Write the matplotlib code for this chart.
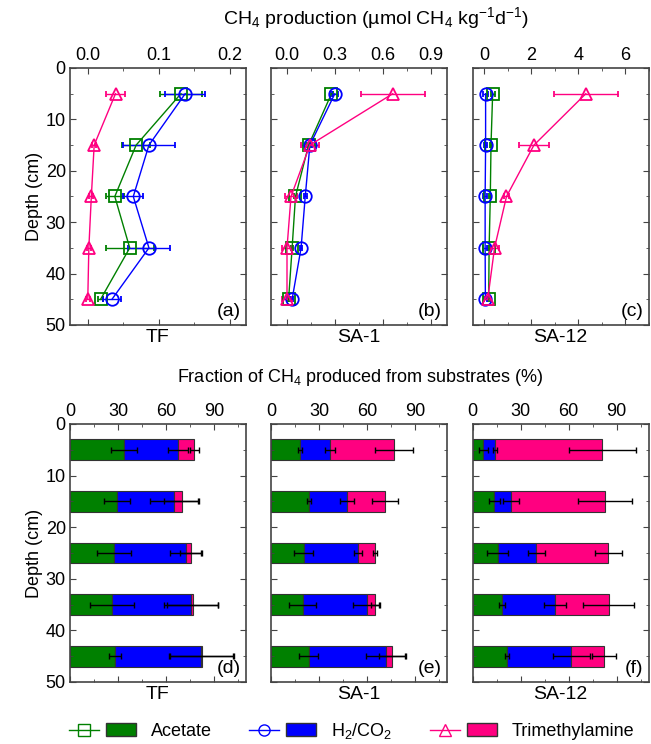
import numpy as np
import matplotlib
matplotlib.use('Agg')
import matplotlib.pyplot as plt
from matplotlib.lines import Line2D
from matplotlib.patches import Patch
from matplotlib.legend_handler import HandlerTuple
from matplotlib.ticker import MultipleLocator, FuncFormatter

plt.rcParams['font.family'] = ['Liberation Sans', 'DejaVu Sans']
plt.rcParams['mathtext.fontset'] = 'custom'
plt.rcParams['mathtext.rm'] = 'Liberation Sans'
plt.rcParams['mathtext.it'] = 'Liberation Sans:italic'

depth = [5, 15, 25, 35, 45]
sites = ['TF', 'SA-1', 'SA-12']

# CH4 production rates (umol CH4 kg-1 d-1)
ace_rate = {'TF': [0.131, 0.068, 0.038, 0.059, 0.018],
            'SA-1': [0.278, 0.135, 0.053, 0.032, 0.010],
            'SA-12': [0.35, 0.28, 0.25, 0.20, 0.18]}
ace_rate_sd = {'TF': [0.030, 0.020, 0.013, 0.034, 0.004],
               'SA-1': [0.010, 0.015, 0.010, 0.008, 0.005],
               'SA-12': [0.08, 0.05, 0.05, 0.04, 0.04]}
h2_rate = {'TF': [0.137, 0.086, 0.064, 0.086, 0.034],
           'SA-1': [0.299, 0.143, 0.114, 0.088, 0.032],
           'SA-12': [0.05, 0.05, 0.03, 0.03, 0.04]}
h2_rate_sd = {'TF': [0.028, 0.036, 0.014, 0.030, 0.013],
              'SA-1': [0.020, 0.012, 0.010, 0.008, 0.008],
              'SA-12': [0.10, 0.08, 0.08, 0.10, 0.06]}
tma_rate = {'TF': [0.039, 0.009, 0.005, 0.0015, 0.0],
            'SA-1': [0.661, 0.143, 0.025, 0.0, 0.0],
            'SA-12': [4.32, 2.11, 0.94, 0.43, 0.14]}
tma_rate_sd = {'TF': [0.013, 0.003, 0.003, 0.003, 0.003],
               'SA-1': [0.20, 0.055, 0.040, 0.030, 0.030],
               'SA-12': [1.37, 0.65, 0.12, 0.20, 0.15]}

# fraction of CH4 produced from each substrate (%)
ace_frac = {'TF': [33.8, 29.4, 27.5, 26.2, 28.1],
            'SA-1': [18.1, 23.5, 20.4, 19.8, 23.5],
            'SA-12': [6.7, 13.6, 15.5, 18.2, 21.6]}
ace_frac_sd = {'TF': [7.9, 8.0, 10.5, 14.0, 3.7],
               'SA-1': [1.0, 1.2, 6.0, 8.5, 5.7],
               'SA-12': [3.0, 3.4, 6.4, 1.8, 1.2]}
h2_frac = {'TF': [33.9, 35.8, 44.8, 49.3, 53.9],
           'SA-1': [18.8, 24.0, 33.8, 40.0, 48.4],
           'SA-12': [7.1, 10.3, 24.3, 33.2, 40.0]}
h2_frac_sd = {'TF': [6.3, 15.0, 10.0, 17.0, 20.0],
              'SA-1': [3.0, 4.6, 2.5, 8.5, 12.5],
              'SA-12': [1.3, 5.0, 5.5, 7.0, 11.5]}
tma_frac = {'TF': [10.1, 4.6, 3.2, 1.2, 0.6],
            'SA-1': [39.8, 23.8, 10.8, 5.2, 3.7],
            'SA-12': [67.3, 58.7, 44.9, 33.5, 20.6]}
tma_frac_sd = {'TF': [3.1, 11.0, 6.5, 16.0, 20.0],
               'SA-1': [12.0, 8.0, 1.0, 2.7, 8.0],
               'SA-12': [21.0, 17.0, 8.5, 16.0, 7.5]}

rate_xlim = {'TF': (-0.025, 0.2225), 'SA-1': (-0.1, 1.0), 'SA-12': (-0.5, 7.0)}
rate_major = {'TF': 0.1, 'SA-1': 0.3, 'SA-12': 2}
rate_fmt = {'TF': '{:.1f}', 'SA-1': '{:.1f}', 'SA-12': '{:.0f}'}

c_ace, c_h2, c_tma = '#008000', '#0000ff', '#ff0080'
spine_c = '#444444'

fig = plt.figure(figsize=(6.51, 7.44), dpi=100)
W, H = 651, 744
lefts = [70, 271, 472.7]
top_axes = [fig.add_axes([l / W, 1 - 325 / H, 176 / W, 257 / H]) for l in lefts]
bot_axes = [fig.add_axes([l / W, 1 - 682 / H, 176 / W, 258 / H]) for l in lefts]


def style(ax, xmajor, ylabels):
    ax.set_ylim(50, 0)
    ax.yaxis.set_major_locator(MultipleLocator(10))
    ax.yaxis.set_minor_locator(MultipleLocator(5))
    ax.xaxis.set_major_locator(MultipleLocator(xmajor))
    ax.xaxis.set_minor_locator(MultipleLocator(xmajor / 2))
    ax.tick_params(which='both', direction='in', top=True, right=True,
                   labeltop=True, labelbottom=False, labelleft=ylabels,
                   labelsize=13, color=spine_c, pad=3)
    ax.tick_params(which='major', length=4)
    ax.tick_params(which='minor', length=2.5)
    for s in ax.spines.values():
        s.set_color(spine_c)
        s.set_linewidth(1.2)
    if ylabels:
        ax.set_ylabel('Depth (cm)', fontsize=13, labelpad=2)


panel_top = ['(a)', '(b)', '(c)']
panel_bot = ['(d)', '(e)', '(f)']

for i, s in enumerate(sites):
    ax = top_axes[i]
    kw = dict(lw=1, ms=9, mew=1.3, mfc='none', capsize=2, elinewidth=1)
    ax.errorbar(ace_rate[s], depth, xerr=ace_rate_sd[s], color=c_ace, marker='s', **kw)
    ax.errorbar(h2_rate[s], depth, xerr=h2_rate_sd[s], color=c_h2, marker='o', **kw)
    ax.errorbar(tma_rate[s], depth, xerr=tma_rate_sd[s], color=c_tma, marker='^', **kw)
    ax.set_xlim(*rate_xlim[s])
    style(ax, rate_major[s], i == 0)
    ax.xaxis.set_major_formatter(FuncFormatter(lambda v, p, f=rate_fmt[s]: f.format(v)))
    ax.set_xlabel(s, fontsize=14, labelpad=3)
    ax.text(0.97, 0.02, panel_top[i], transform=ax.transAxes, ha='right', va='bottom', fontsize=14)

    ax = bot_axes[i]
    a = np.array(ace_frac[s])
    b = np.array(h2_frac[s])
    c = np.array(tma_frac[s])
    bkw = dict(height=4, edgecolor='#333333', linewidth=0.8)
    ax.barh(depth, a, color=c_ace, **bkw)
    ax.barh(depth, b, left=a, color=c_h2, **bkw)
    ax.barh(depth, c, left=a + b, color=c_tma, **bkw)
    ekw = dict(fmt='none', ecolor='black', elinewidth=1, capsize=2)
    ax.errorbar(a, depth, xerr=ace_frac_sd[s], **ekw)
    ax.errorbar(a + b, depth, xerr=h2_frac_sd[s], **ekw)
    ax.errorbar(a + b + c, depth, xerr=tma_frac_sd[s], **ekw)
    ax.set_xlim(0, 110)
    style(ax, 30, i == 0)
    ax.set_xlabel(s, fontsize=14, labelpad=3)
    ax.text(0.97, 0.02, panel_bot[i], transform=ax.transAxes, ha='right', va='bottom', fontsize=14)

fig.text(0.578, 0.976, 'CH$_4$ production (\u00b5mol CH$_4$ kg$^{\u22121}$d$^{\u22121}$)',
         ha='center', va='center', fontsize=14)
fig.text(0.553, 0.493, 'Fraction of CH$_4$ produced from substrates (%)',
         ha='center', va='center', fontsize=13)

handles = [
    (Line2D([], [], color=c_ace, marker='s', mfc='none', ms=8, lw=1),
     Patch(facecolor=c_ace, edgecolor='#333333')),
    (Line2D([], [], color=c_h2, marker='o', mfc='none', ms=8, lw=1),
     Patch(facecolor=c_h2, edgecolor='#333333')),
    (Line2D([], [], color=c_tma, marker='^', mfc='none', ms=9, lw=1),
     Patch(facecolor=c_tma, edgecolor='#333333')),
]
labels = ['Acetate', 'H$_2$/CO$_2$', 'Trimethylamine']
fig.legend(handles, labels, loc='center', bbox_to_anchor=(0.54, 0.0175), ncol=3,
           frameon=False, fontsize=13, handlelength=3.7, columnspacing=2.1,
           handletextpad=0.8, borderpad=0.2,
           handler_map={tuple: HandlerTuple(ndivide=None, pad=0.4)})

fig.savefig('out.png', dpi=100)
